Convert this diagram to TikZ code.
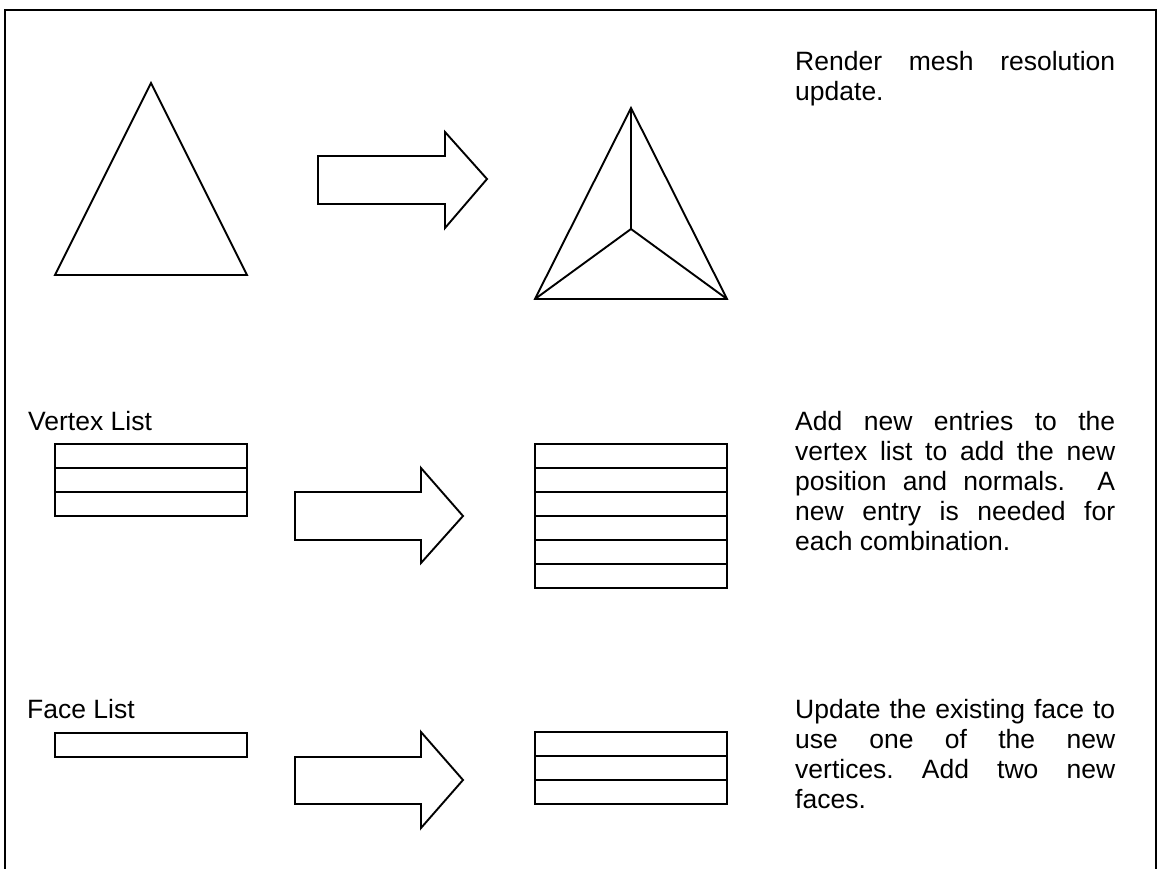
\documentclass[tikz,border=0pt]{standalone}
\usepackage{fontspec}
\setmainfont{Liberation Sans}
\frenchspacing
\tikzset{
  ln/.style={line width=1.9pt, line join=miter, black},
  lbl/.style={anchor=base west, inner sep=0pt, font=\fontsize{26.5}{30}\selectfont},
  para/.style={anchor=base west, inner sep=0pt},
}
\newcommand{\mypara}[1]{\parbox[t]{320pt}{\fontsize{26.5}{30}\selectfont\frenchspacing\tolerance=10000\hbadness=10000\hyphenpenalty=10000\noindent #1}}
\newcommand{\blockarrow}[8]{% x0, shaft top, shaft bottom, head x, head top, head bottom, tip x, tip y
  \draw[ln] (#1,#2) -- (#4,#2) -- (#4,#5) -- (#7,#8) -- (#4,#6) -- (#4,#3) -- (#1,#3) -- cycle;}
\begin{document}
\begin{tikzpicture}[x=1pt,y=-1pt]
\useasboundingbox (0,0) rectangle (1160,869);
% frame
\draw[ln] (5,869) -- (5,10) -- (1156,10) -- (1156,869);

% --- row 1 ---
\coordinate (a1) at (151,83);
\coordinate (b1) at (55,275);
\coordinate (c1) at (247,275);
\draw[ln] (a1) -- (b1) -- (c1) -- cycle;

\blockarrow{318}{156}{204}{445}{132}{228}{487}{179}

\coordinate (a2) at (631,108);
\coordinate (b2) at (535,299);
\coordinate (c2) at (727,299);
\coordinate (m2) at (631,229);
\draw[ln] (a2) -- (b2) -- (c2) -- cycle;
\draw[ln] (m2) -- (a2) (m2) -- (b2) (m2) -- (c2);

\node[para] (t1) at (795,71) {\mypara{Render mesh resolution\linebreak update.}};

% --- row 2 ---
\node[lbl] (vl) at (28,430) {Vertex List};
\draw[ln] (55,444) rectangle (247,516);
\foreach \y in {468,492} \draw[ln] (55,\y) -- (247,\y);

\blockarrow{295}{492}{540}{421}{468}{563}{463}{516}

\draw[ln] (535,444) rectangle (727,588);
\foreach \y in {468,492,516,540,564} \draw[ln] (535,\y) -- (727,\y);

\node[para] (t2) at (795,430) {\mypara{Add new entries to the\linebreak vertex list to add the new\linebreak position and normals.\ \ A\linebreak new entry is needed for\linebreak each combination.}};

% --- row 3 ---
\node[lbl] (fl) at (27,718) {Face List};
\draw[ln] (55,733) rectangle (247,757);

\blockarrow{295}{757}{804}{421}{732}{828}{463}{780}

\draw[ln] (535,732) rectangle (727,804);
\foreach \y in {756,780} \draw[ln] (535,\y) -- (727,\y);

\node[para] (t3) at (795,718) {\mypara{Update the existing face to\linebreak use one of the new\linebreak vertices. Add two new\linebreak faces.}};
\end{tikzpicture}
\end{document}
